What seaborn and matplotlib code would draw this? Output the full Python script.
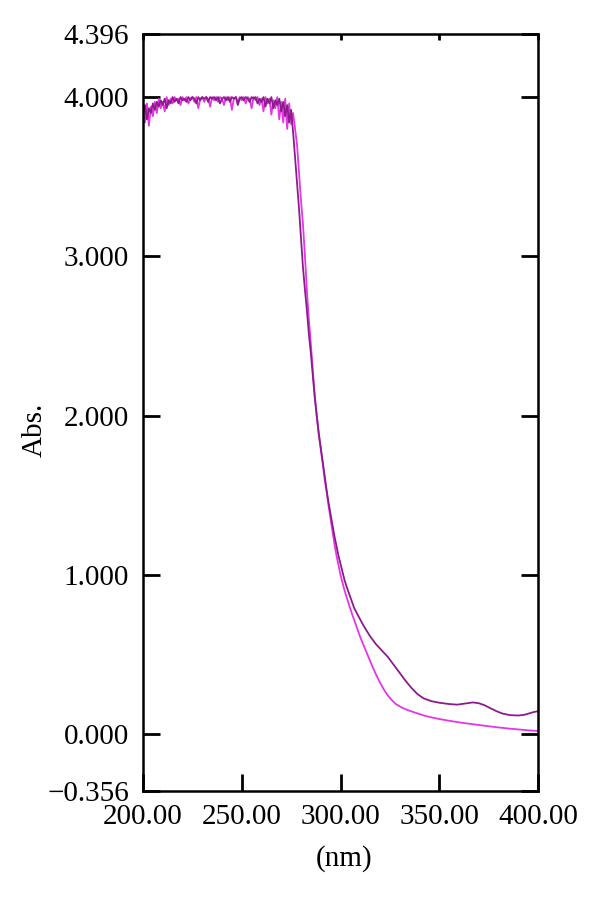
import numpy as np
import pandas as pd
import matplotlib
matplotlib.use("Agg")
import matplotlib.pyplot as plt
import seaborn as sns

# -------------------------------
# Data
# -------------------------------
# plateau region, 1 nm steps 200..276
plateau_nm = list(range(200, 277))

dark_plateau = [
    3.88, 3.95, 3.86, 3.93, 3.90, 3.96, 3.92, 3.97, 3.94, 3.98,
    3.95, 3.99, 3.93, 3.98, 3.96, 4.00, 3.97, 3.99, 3.96, 4.00,
    3.98, 3.99, 3.97, 4.00, 3.98, 4.00, 3.99, 3.96, 4.00, 3.98,
    4.00, 3.99, 4.00, 3.97, 4.00, 3.99, 4.00, 3.98, 4.00, 3.96,
    3.99, 4.00, 3.98, 4.00, 3.97, 4.00, 3.99, 4.00, 3.95, 3.99,
    4.00, 3.98, 4.00, 3.99, 3.97, 4.00, 3.99, 4.00, 3.96, 3.99,
    3.97, 4.00, 3.94, 3.99, 3.96, 4.00, 3.93, 3.98, 3.95, 3.99,
    3.91, 3.97, 3.88, 3.95, 3.84, 3.92, 3.78,
]

bright_plateau = [
    3.93, 3.84, 3.96, 3.82, 3.94, 3.88, 3.97, 3.90, 3.99, 3.93,
    3.97, 3.91, 4.00, 3.95, 3.99, 3.96, 4.00, 3.98, 3.99, 3.95,
    4.00, 3.98, 4.00, 3.96, 3.99, 4.00, 3.97, 4.00, 3.93, 3.99,
    4.00, 3.97, 4.00, 3.99, 3.94, 4.00, 3.98, 4.00, 3.97, 4.00,
    3.99, 3.95, 4.00, 3.98, 4.00, 3.92, 3.99, 4.00, 3.97, 4.00,
    3.98, 4.00, 3.96, 4.00, 3.99, 3.93, 4.00, 3.98, 4.00, 3.95,
    3.99, 3.91, 4.00, 3.96, 3.99, 3.89, 3.98, 3.93, 4.00, 3.86,
    3.97, 3.84, 3.99, 3.80, 3.96, 3.83, 3.90,
]

# falling edge and tail
dark_tail_nm = [277, 278, 279, 280, 281, 282, 283, 284, 285, 286,
                287, 288, 289, 290, 291, 292, 293, 294, 295, 296,
                297, 298, 299, 300, 301, 302, 303, 305, 307, 310,
                312, 315, 318, 321, 324, 327, 330, 333, 336, 339,
                342, 346, 350, 355, 359, 363, 367, 370, 373, 376,
                379, 382, 386, 390, 393, 396, 398, 400]
dark_tail = [3.62, 3.46, 3.30, 3.12, 2.93, 2.79, 2.66, 2.51, 2.39, 2.25,
             2.11, 2.00, 1.89, 1.80, 1.71, 1.62, 1.53, 1.45, 1.38, 1.31,
             1.24, 1.18, 1.12, 1.07, 1.02, 0.97, 0.93, 0.86, 0.79, 0.72,
             0.675, 0.615, 0.565, 0.525, 0.485, 0.435, 0.385, 0.335, 0.29, 0.252,
             0.226, 0.208, 0.198, 0.19, 0.186, 0.193, 0.20, 0.195, 0.182, 0.163,
             0.145, 0.13, 0.12, 0.118, 0.122, 0.133, 0.14, 0.145]

bright_tail_nm = [277, 278, 279, 280, 281, 282, 283, 284, 285, 286,
                  287, 288, 289, 290, 291, 292, 293, 294, 295, 296,
                  297, 298, 299, 300, 302, 304, 306, 308, 310, 312,
                  314, 316, 318, 320, 322, 324, 326, 328, 331, 334, 338,
                  343, 349, 355, 361, 367, 374, 380, 386, 392, 396, 400]
bright_tail = [3.80, 3.70, 3.52, 3.35, 3.20, 3.00, 2.78, 2.60, 2.45, 2.28,
               2.12, 1.99, 1.88, 1.79, 1.70, 1.60, 1.52, 1.43, 1.35, 1.27,
               1.19, 1.12, 1.06, 1.00, 0.905, 0.825, 0.75, 0.68, 0.61, 0.55,
               0.49, 0.43, 0.375, 0.325, 0.28, 0.243, 0.214, 0.19, 0.168, 0.152, 0.135,
               0.115, 0.098, 0.085, 0.073, 0.063, 0.052, 0.043, 0.035, 0.028, 0.024, 0.021]

x_ticks = [200, 250, 300, 350, 400]
y_ticks = [-0.356, 0.0, 1.0, 2.0, 3.0, 4.0, 4.396]

DARK = "#8c1c8c"
BRIGHT = "#e536e5"

# -------------------------------
# Build frames
# -------------------------------
dark_df = pd.DataFrame({"nm": plateau_nm + dark_tail_nm,
                        "abs": dark_plateau + dark_tail})
bright_df = pd.DataFrame({"nm": plateau_nm + bright_tail_nm,
                          "abs": bright_plateau + bright_tail})

# -------------------------------
# Plot
# -------------------------------
sns.set_theme(style="ticks")
plt.rcParams["font.family"] = ["Liberation Serif", "DejaVu Serif"]
plt.rcParams["axes.unicode_minus"] = True
plt.rcParams["text.color"] = "black"
plt.rcParams["axes.labelcolor"] = "black"

fig = plt.figure(figsize=(6, 8.99), dpi=100)
ax = fig.add_axes([143 / 600, 1 - 791 / 899, 395 / 600, 757 / 899])

sns.lineplot(data=bright_df, x="nm", y="abs", ax=ax, color=BRIGHT,
             linewidth=1.3, estimator=None, sort=False)
sns.lineplot(data=dark_df, x="nm", y="abs", ax=ax, color=DARK,
             linewidth=1.3, estimator=None, sort=False)

ax.set_xlim(200, 400)
ax.set_ylim(-0.356, 4.396)

ax.set_xticks(x_ticks)
ax.set_xticklabels([f"{v:.2f}" for v in x_ticks])
ax.set_yticks(y_ticks)
ax.set_yticklabels([f"{v:.3f}".replace("-", "\u2212") for v in y_ticks])

ax.tick_params(axis="both", which="major", direction="in", length=12,
               width=2, labelsize=21, colors="black", pad=9)
ax.tick_params(axis="y", right=True, pad=10)
ax.tick_params(axis="x", top=True)
for t in ax.xaxis.get_major_ticks():
    t.tick2line.set_markersize(4)

for sp in ax.spines.values():
    sp.set_visible(True)
    sp.set_linewidth(1.8)
    sp.set_color("black")

ax.set_xlabel("(nm)", fontsize=21, color="black")
ax.set_ylabel("Abs.", fontsize=21, color="black")
ax.xaxis.label.set_va("center")
ax.yaxis.label.set_va("center")
ax.xaxis.set_label_coords(0.508, -0.089)
ax.yaxis.set_label_coords(-0.273, 0.477)

fig.savefig("out.png", dpi=100, facecolor="white")
